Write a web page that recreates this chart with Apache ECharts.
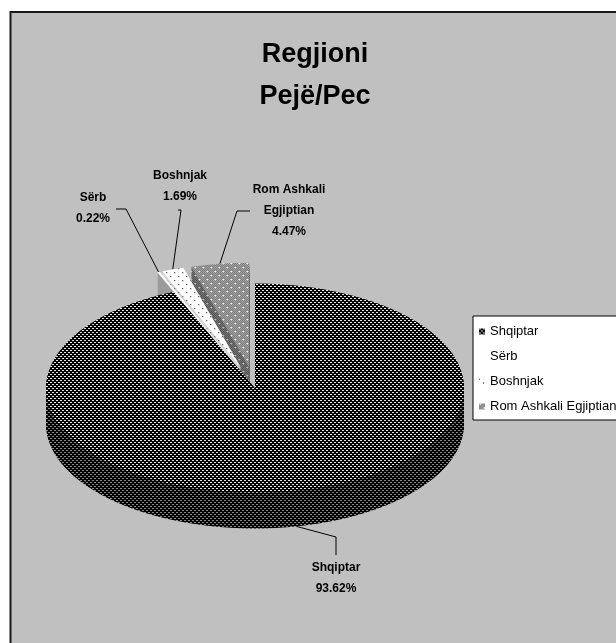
<!DOCTYPE html>
<html>
<head>
<meta charset="utf-8">
<script src="https://cdn.jsdelivr.net/npm/echarts@6/dist/echarts.min.js"></script>
<style>
  html, body { margin: 0; padding: 0; background: #ffffff; }
  #wrap { position: relative; width: 616px; height: 643px; overflow: hidden; }
  #base { position: absolute; left: 0; top: 0; width: 616px; height: 643px; }
  /* the pie is laid out as a circle, then flattened into a tilted disc */
  #pie { position: absolute; left: 0; top: 0; width: 616px; height: 1286px;
         transform-origin: 0 0; transform: scaleY(0.5); pointer-events: none; }
</style>
</head>
<body>
<div id="wrap"><div id="base"></div><div id="pie"></div></div>
<script>
// ---- data ----
const categories = ['Shqiptar', 'Sërb', 'Boshnjak', 'Rom Ashkali Egjiptian'];
const labelNames = [['Shqiptar'], ['Sërb'], ['Boshnjak'], ['Rom Ashkali', 'Egjiptian']];
const shares = [93.62, 0.22, 1.69, 4.47];
const exploded = [false, true, true, true];
const titleLines = ['Regjioni', 'Pejë/Pec'];

// ---- geometry of the tilted pie ----
const FONT = '"Liberation Sans", Arial, sans-serif';
const SY = 0.5;            // vertical flattening of the disc
const CX = 255, CY = 388;  // centre of the top face (screen px)
const R = 209;             // radius (horizontal, screen px)
const DEPTH = 36;          // thickness of the disc (screen px)
const OFFSET = 42;         // explode distance (unflattened px)

// ---- fill patterns ----
function tile(w, h, draw) {
  const c = document.createElement('canvas');
  c.width = w; c.height = h;
  draw(c.getContext('2d'));
  return { image: c, repeat: 'repeat' };
}
// sy = 2 gives tiles for the flattened pie, sy = 1 for flat (legend) use
function dotsOnDark(bg, dot, sy) {
  return tile(4, 4 * sy, g => {
    g.fillStyle = bg; g.fillRect(0, 0, 4, 4 * sy);
    g.fillStyle = dot;
    g.fillRect(0, 0, 2, sy); g.fillRect(2, 2 * sy, 2, sy);
  });
}
function checker(a, b, dot, sy) {
  return tile(8, 8 * sy, g => {
    for (let y = 0; y < 8; y++) for (let x = 0; x < 8; x++) {
      g.fillStyle = (x + y) % 2 ? a : b;
      g.fillRect(x, y * sy, 1, sy);
    }
    g.fillStyle = dot;
    g.fillRect(0, 0, 2, sy); g.fillRect(4, 4 * sy, 2, sy);
  });
}
function sparseDots(bg, dot, sy) {
  return tile(8, 8 * sy, g => {
    g.fillStyle = bg; g.fillRect(0, 0, 8, 8 * sy);
    g.fillStyle = dot;
    g.fillRect(0, 0, 1, sy); g.fillRect(4, 4 * sy, 1, sy);
  });
}
const topFill = [
  dotsOnDark('#000000', '#e8e8e8', 2),
  '#ffffff',
  sparseDots('#ffffff', '#000000', 2),
  checker('#5c5c5c', '#c2c2c2', '#ffffff', 2)
];
const sideFill = [
  dotsOnDark('#000000', '#8a8a8a', 2),
  '#9c9c9c',
  sparseDots('#d4d4d4', '#333333', 2),
  checker('#3c3c3c', '#8c8c8c', '#cccccc', 2)
];
const legendFill = [
  dotsOnDark('#000000', '#e4e4e4', 1),
  '#ffffff',
  sparseDots('#ffffff', '#000000', 1),
  checker('#5c5c5c', '#c2c2c2', '#ffffff', 1)
];

// ---- the pie: stacked layers give the disc its thickness ----
const pieSeries = [];
for (let k = DEPTH; k >= 0; k--) {
  pieSeries.push({
    type: 'pie',
    center: [CX, (CY + k) / SY],
    radius: [0, R],
    startAngle: 90,
    clockwise: true,
    selectedMode: 'multiple',
    selectedOffset: OFFSET,
    silent: true,
    animation: false,
    avoidLabelOverlap: false,
    label: { show: false },
    labelLine: { show: false },
    emphasis: { disabled: true },
    itemStyle: { borderWidth: 0 },
    data: categories.map((name, i) => ({
      name, value: shares[i], selected: exploded[i],
      itemStyle: { color: k === 0 ? topFill[i] : sideFill[i] }
    }))
  });
}
const pie = echarts.init(document.getElementById('pie'));
pie.setOption({ animation: false, series: pieSeries });

// ---- labels, leader lines, title, legend ----
const total = shares.reduce((a, b) => a + b, 0);
function midAngle(i) {
  let before = 0;
  for (let j = 0; j < i; j++) before += shares[j];
  return (before + shares[i] / 2) / total * 2 * Math.PI;
}
// point on the rim of slice i at its middle angle (drop = depth below top face)
function rimPoint(i, drop) {
  const a = midAngle(i);
  const r = R + (exploded[i] ? OFFSET : 0);
  return [CX + r * Math.sin(a), CY - r * Math.cos(a) * SY + drop];
}

const labelAnchor = [[336, 568], [93, 198], [180, 176], [289, 190]];
const leaderBend = [
  [[336, 555], [336, 537]],
  [[116, 209], [126, 209]],
  [[178, 210], [181, 210]],
  [[250, 211], [237, 211]]
];
const LH = 21;

const graphics = [{
  type: 'rect', z: -100, silent: true,
  shape: { x: 10.5, y: 12, width: 700, height: 700 },
  style: { fill: '#c0c0c0', stroke: '#1a1a1a', lineWidth: 2 }
}, {
  type: 'text', x: 315, y: 55 - 21, z: 10, silent: true,
  style: {
    text: titleLines.join('\n'), fill: '#000000',
    fontFamily: FONT, fontSize: 27, fontWeight: 'bold',
    lineHeight: 42, align: 'center', verticalAlign: 'top'
  }
}];
categories.forEach((name, i) => {
  const lines = labelNames[i].concat([shares[i].toFixed(2) + '%']);
  graphics.push({
    type: 'text', x: labelAnchor[i][0], y: labelAnchor[i][1] - LH / 2, z: 10, silent: true,
    style: {
      text: lines.join('\n'), fill: '#000000',
      fontFamily: FONT, fontSize: 12, fontWeight: 'bold',
      lineHeight: LH, align: 'center', verticalAlign: 'top'
    }
  });
  const start = rimPoint(i, i === 0 ? DEPTH : 0);
  graphics.push({
    type: 'polyline', z: 10, silent: true,
    shape: { points: [leaderBend[i][0], leaderBend[i][1], start] },
    style: { stroke: '#000000', lineWidth: 1, fill: null }
  });
});

const base = echarts.init(document.getElementById('base'));
base.setOption({
  backgroundColor: '#ffffff',
  animation: false,
  legend: {
    orient: 'vertical', left: 473, top: 316,
    padding: [8, 40, 6, 6], itemGap: 10,
    itemWidth: 6, itemHeight: 6, icon: 'rect',
    backgroundColor: '#ffffff', borderColor: '#000000', borderWidth: 1, borderRadius: 0,
    selectedMode: false,
    textStyle: { fontFamily: FONT, fontSize: 13, color: '#000000', lineHeight: 15 },
    data: categories
  },
  series: [{
    type: 'pie', radius: [0, 0], center: [-50, -50], silent: true,
    label: { show: false }, labelLine: { show: false },
    data: categories.map((name, i) => ({ name, value: shares[i], itemStyle: { color: legendFill[i] } }))
  }],
  graphic: graphics
});
</script>
</body>
</html>
